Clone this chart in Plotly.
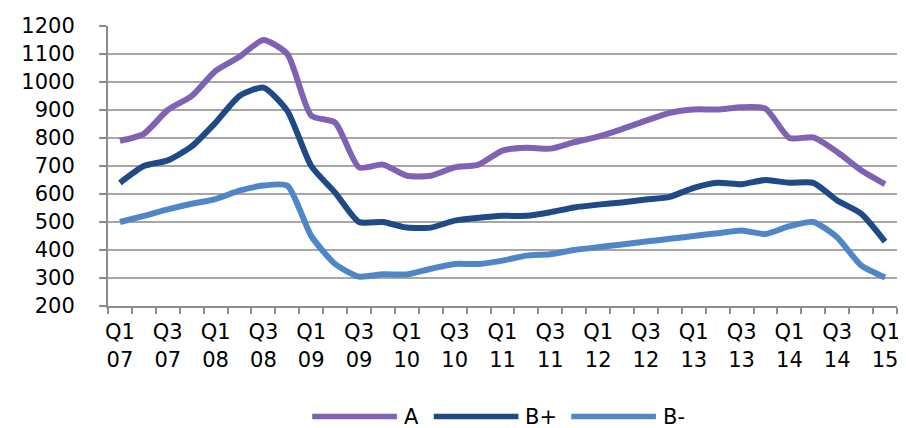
import plotly.graph_objects as go

quarters = []
for yr in range(7, 16):
    for q in range(1, 5):
        if yr == 15 and q > 1:
            break
        quarters.append(f"Q{q} {yr:02d}")

tick_labels = [q.replace(" ", "<br>") if i % 2 == 0 else "" for i, q in enumerate(quarters)]

series_a = [790, 815, 900, 950, 1040, 1090, 1150, 1100, 880, 855, 695, 705, 665, 665, 695, 705,
            755, 765, 762, 785, 805, 832, 862, 890, 902, 902, 910, 905, 800, 802, 750, 685, 635]
series_bplus = [640, 700, 720, 770, 855, 950, 980, 897, 700, 605, 500, 500, 480, 480, 505, 515,
                522, 522, 535, 552, 562, 570, 580, 590, 622, 640, 635, 650, 640, 640, 577, 530, 430]
series_bminus = [500, 522, 545, 565, 582, 612, 630, 630, 450, 350, 305, 313, 313, 333, 350, 350,
                 362, 380, 385, 400, 410, 420, 430, 440, 450, 460, 470, 457, 485, 500, 445, 345, 302]

names = ["A", "B+", "B-"]
colors = ["#8062B3", "#1F4A86", "#4F86C8"]
FONT = "DejaVu Sans, Liberation Sans, Arial, sans-serif"

fig = go.Figure()
for name, vals, col in zip(names, [series_a, series_bplus, series_bminus], colors):
    fig.add_trace(go.Scatter(x=quarters, y=vals, name=name, mode="lines",
                             line=dict(color=col, width=6, shape="spline", smoothing=0.6),
                             showlegend=False))

# page body has an 8px margin, so the figure is 8px smaller and margins compensate
fig.update_layout(
    width=898, height=420,
    margin=dict(l=100, r=6, t=17, b=122),
    paper_bgcolor="white", plot_bgcolor="white",
    font=dict(family=FONT, size=21, color="black"),
)
fig.update_xaxes(type="category", tickmode="array", tickvals=quarters, ticktext=tick_labels,
                 tickson="boundaries", ticks="outside", ticklen=6, tickwidth=1.5, tickcolor="#8C8C8C",
                 showline=True, linecolor="#8C8C8C", linewidth=2, showgrid=False,
                 tickangle=0, range=[-0.5, len(quarters) - 0.5], ticklabelstandoff=6)
fig.update_yaxes(range=[200, 1200], dtick=100, tick0=200, showgrid=True, gridcolor="#A6A6A6",
                 gridwidth=2, showline=True, linecolor="#8C8C8C", linewidth=2,
                 ticks="outside", ticklen=7, tickwidth=1.5, tickcolor="#8C8C8C",
                 zeroline=False, ticklabelstandoff=20)

# legend drawn as line swatches + labels
leg_y = (306 - 417) / 281
swatches = [(313, 398, 403), (435, 520, 525), (573, 658, 663)]
for (x0, x1, xt), name, col in zip(swatches, names, colors):
    fig.add_shape(type="line", xref="paper", yref="paper",
                  x0=(x0 - 108) / 792, x1=(x1 - 108) / 792, y0=leg_y, y1=leg_y,
                  line=dict(color=col, width=5.5))
    fig.add_annotation(xref="paper", yref="paper", x=(xt - 108) / 792, y=leg_y,
                       text=name, showarrow=False, xanchor="left", yanchor="middle",
                       font=dict(family=FONT, size=21, color="black"))

fig.write_html("out.html")
